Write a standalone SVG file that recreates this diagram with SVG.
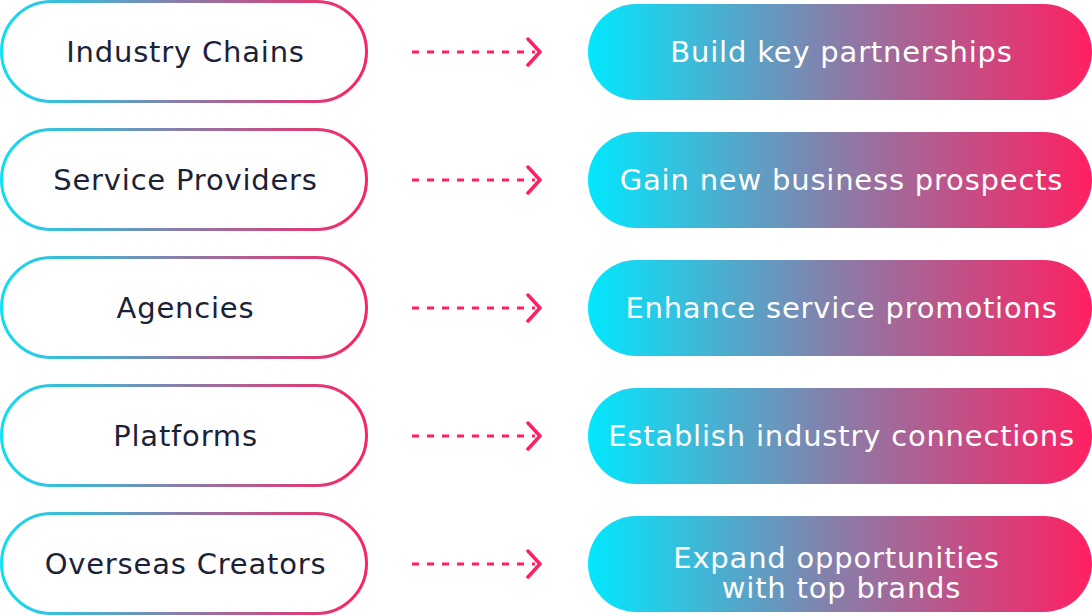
<svg xmlns="http://www.w3.org/2000/svg" width="1092" height="616" viewBox="0 0 1092 616">
<defs>
<linearGradient id="gs" x1="0" y1="0" x2="1" y2="0" gradientUnits="objectBoundingBox">
<stop offset="0" stop-color="#12DDF2"/><stop offset="0.5" stop-color="#8A7CA8"/><stop offset="1" stop-color="#FE2262"/>
</linearGradient>
<linearGradient id="gf" x1="0" y1="0" x2="1" y2="0">
<stop offset="0" stop-color="#02E7FD"/><stop offset="0.5" stop-color="#8A7CA8"/><stop offset="1" stop-color="#FF2062"/>
</linearGradient>
<style>
.l{fill:#fff;stroke:url(#gs);stroke-width:3}
.r{fill:url(#gf)}
.lt{font-family:"DejaVu Sans",sans-serif;font-size:29px;letter-spacing:0.8px;fill:#1B2236;text-anchor:middle}
.rt{font-family:"DejaVu Sans",sans-serif;font-size:29px;letter-spacing:0.8px;fill:#fff;text-anchor:middle}
.d{stroke:#FF2062;stroke-width:3;fill:none;stroke-dasharray:7 8}
.h{stroke:#FF2062;stroke-width:3.5;fill:none;stroke-linecap:round;stroke-linejoin:round}
</style>
</defs>
<g id="left-1"><rect class="l" x="1.5" y="1.5" width="365" height="100" rx="50"/><text class="lt" x="185.5" y="62">Industry Chains</text></g>
<g id="left-2"><rect class="l" x="1.5" y="129.5" width="365" height="100" rx="50"/><text class="lt" x="185.5" y="190">Service Providers</text></g>
<g id="left-3"><rect class="l" x="1.5" y="257.5" width="365" height="100" rx="50"/><text class="lt" x="185.5" y="318">Agencies</text></g>
<g id="left-4"><rect class="l" x="1.5" y="385.5" width="365" height="100" rx="50"/><text class="lt" x="185.5" y="446">Platforms</text></g>
<g id="left-5"><rect class="l" x="1.5" y="513.5" width="365" height="100" rx="50"/><text class="lt" x="185.5" y="574">Overseas Creators</text></g>
<g id="right-1"><rect class="r" x="588" y="4" width="504" height="96" rx="48"/><text class="rt" x="841.5" y="62">Build key partnerships</text></g>
<g id="right-2"><rect class="r" x="588" y="132" width="504" height="96" rx="48"/><text class="rt" x="841.5" y="190">Gain new business prospects</text></g>
<g id="right-3"><rect class="r" x="588" y="260" width="504" height="96" rx="48"/><text class="rt" x="841.5" y="318">Enhance service promotions</text></g>
<g id="right-4"><rect class="r" x="588" y="388" width="504" height="96" rx="48"/><text class="rt" x="841.5" y="446">Establish industry connections</text></g>
<g id="right-5"><rect class="r" x="588" y="516" width="504" height="96" rx="48"/><text class="rt" x="836.5" y="568">Expand opportunities</text><text class="rt" x="841.5" y="598">with top brands</text></g>
<g id="connectors">
<path class="d" d="M412 52H535M412 180H535M412 308H535M412 436H535M412 564H535"/>
<path class="h" d="M528 39L540 52L528 65M528 167L540 180L528 193M528 295L540 308L528 321M528 423L540 436L528 449M528 551L540 564L528 577"/>
</g>
</svg>
